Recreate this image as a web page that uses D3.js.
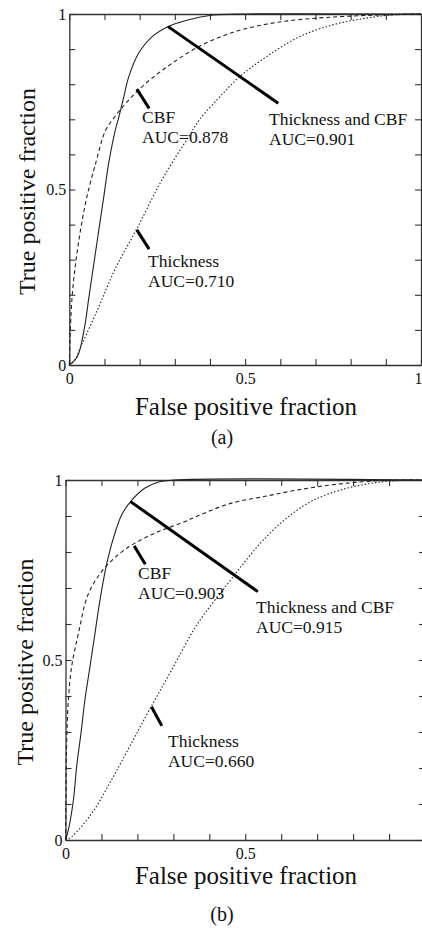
<!DOCTYPE html>
<html>
<head>
<meta charset="utf-8">
<script src="https://cdn.jsdelivr.net/npm/d3@7"></script>
<style>
body { margin: 0; background: #fff; }
svg { display: block; font-family: "Liberation Serif", "Times New Roman", serif; }
</style>
</head>
<body>
<script>
// tick positions (inward ticks every 0.1, labels at 0, 0.5, 1)
var gridTicks = [0, 0.1, 0.2, 0.3, 0.4, 0.5, 0.6, 0.7, 0.8, 0.9, 1];
var labelTicks = [0, 0.5, 1];
var tickText = ["0", "0.5", "1"];

// panel (a): [FPF, TPF] points
var aCombined = [[0,0],[0.023,0.024],[0.042,0.10],[0.056,0.195],[0.070,0.29],[0.084,0.385],[0.098,0.479],
	[0.112,0.575],[0.131,0.67],[0.141,0.707],[0.155,0.764],[0.169,0.821],[0.197,0.888],[0.235,0.935],
	[0.28,0.964],[0.32,0.978],[0.358,0.988],[0.41,0.997],[0.5,1],[1,1]];
var aCbf = [[0,0],[0.003,0.1],[0.008,0.195],[0.018,0.29],[0.032,0.385],[0.05,0.479],[0.075,0.575],
	[0.103,0.668],[0.13,0.708],[0.16,0.745],[0.19,0.777],[0.235,0.817],[0.29,0.858],[0.37,0.908],
	[0.466,0.948],[0.56,0.971],[0.654,0.984],[0.8,0.994],[1,1]];
var aThick = [[0,0],[0.013,0.01],[0.037,0.062],[0.084,0.166],[0.131,0.275],[0.193,0.39],[0.263,0.527],
	[0.339,0.65],[0.371,0.7],[0.428,0.764],[0.484,0.821],[0.56,0.878],[0.654,0.935],[0.749,0.969],
	[0.843,0.988],[0.938,0.999],[1,1]];

// panel (b)
var bCombined = [[0,0],[0.008,0.028],[0.022,0.111],[0.031,0.204],[0.043,0.296],[0.054,0.389],[0.068,0.481],
	[0.082,0.574],[0.096,0.667],[0.114,0.764],[0.133,0.838],[0.156,0.903],[0.181,0.94],[0.22,0.977],
	[0.257,0.994],[0.3,1],[1,1]];
var bCbf = [[0,0],[0.001,0.1],[0.002,0.204],[0.004,0.296],[0.008,0.389],[0.017,0.481],[0.036,0.574],
	[0.062,0.68],[0.1,0.745],[0.146,0.792],[0.192,0.824],[0.257,0.856],[0.331,0.884],[0.367,0.9],
	[0.459,0.935],[0.552,0.954],[0.644,0.972],[0.736,0.986],[0.828,0.995],[0.92,1],[1,1]];
var bThick = [[0,0],[0.017,0.009],[0.073,0.074],[0.128,0.167],[0.183,0.268],[0.238,0.37],[0.294,0.47],
	[0.367,0.6],[0.45,0.71],[0.506,0.782],[0.552,0.835],[0.616,0.895],[0.69,0.944],[0.782,0.977],
	[0.874,0.994],[0.966,1],[1,1]];

var curveNames = ["Thickness and CBF", "CBF", "Thickness"];
var aAuc = ["0.901", "0.878", "0.710"];
var bAuc = ["0.915", "0.903", "0.660"];

// leader line ends and label anchor, in data units
var aLeaders = [[[0.281,0.964],[0.594,0.746]], [[0.192,0.786],[0.227,0.731]], [[0.192,0.385],[0.227,0.330]]];
var aLabelAt = [[0.568,0.684], [0.207,0.689], [0.224,0.278]];
var bLeaders = [[[0.181,0.940],[0.535,0.690]], [[0.191,0.817],[0.222,0.766]], [[0.239,0.370],[0.268,0.317]]];
var bLabelAt = [[0.530,0.631], [0.202,0.725], [0.285,0.258]];

var svg = d3.select("body").append("svg")
	.attr("width", 422)
	.attr("height", 928);

var styles = [
	{ dash: null },
	{ dash: "4,3" },
	{ dash: "1.5,2" }
];

var draw_panel = function(p) {
	var x = d3.scaleLinear().domain([0, 1]).range([p.left, p.right]);
	var y = d3.scaleLinear().domain([0, 1]).range([p.bottom, p.top]);
	var g = svg.append("g");

	var label = function(shown) {
		return function(d) { var i = labelTicks.indexOf(d); return (i < 0 || i >= shown) ? "" : tickText[i]; };
	};

	var axes = [
		d3.axisBottom(x).tickValues(gridTicks).tickFormat(label(p.xLabels)).tickSizeInner(-6).tickSizeOuter(0).tickPadding(8),
		d3.axisLeft(y).tickValues(gridTicks).tickFormat(label(3)).tickSizeInner(-6).tickSizeOuter(0).tickPadding(3),
		d3.axisTop(x).tickValues(gridTicks).tickFormat("").tickSizeInner(-6).tickSizeOuter(0),
		d3.axisRight(y).tickValues(gridTicks).tickFormat("").tickSizeInner(-6).tickSizeOuter(0)
	];
	var shift = ["translate(0," + p.bottom + ")", "translate(" + p.left + ",0)",
		"translate(0," + p.top + ")", "translate(" + p.right + ",0)"];

	axes.forEach(function(ax, i) {
		var a = g.append("g").attr("transform", shift[i]).call(ax);
		a.attr("font-family", null).attr("font-size", null);
		a.selectAll("path.domain").attr("stroke", "#333").attr("stroke-width", 1.3);
		a.selectAll(".tick line").attr("stroke", "#333").attr("stroke-width", 1.1);
		a.selectAll(".tick text").attr("fill", "#111").style("font-size", "16px");
		// last x label sits on the page edge: keep it inside
		if (i === 0) a.selectAll(".tick text").filter(function(d) { return d === 1; }).attr("text-anchor", "end").attr("x", 1);
	});

	var line = d3.line()
		.x(function(d) { return x(d[0]); })
		.y(function(d) { return y(d[1]); })
		.curve(d3.curveCatmullRom.alpha(0.5));

	g.selectAll("path.roc")
		.data(p.series)
		.enter().append("path")
		.attr("class", "roc")
		.attr("d", line)
		.attr("fill", "none")
		.attr("stroke", "#222")
		.attr("stroke-width", 1.1)
		.attr("stroke-dasharray", function(d, i) { return styles[i].dash; });

	g.selectAll("line.leader")
		.data(p.leaders)
		.enter().append("line")
		.attr("class", "leader")
		.attr("x1", function(d) { return x(d[0][0]); })
		.attr("y1", function(d) { return y(d[0][1]); })
		.attr("x2", function(d) { return x(d[1][0]); })
		.attr("y2", function(d) { return y(d[1][1]); })
		.attr("stroke", "#000")
		.attr("stroke-width", 3);

	var note = g.selectAll("text.note")
		.data(p.labelAt)
		.enter().append("text")
		.attr("class", "note")
		.attr("x", function(d) { return x(d[0]); })
		.attr("y", function(d) { return y(d[1]); })
		.attr("fill", "#111")
		.style("font-size", "17.5px");
	note.append("tspan").text(function(d, i) { return curveNames[i]; });
	note.append("tspan")
		.attr("x", function(d) { return x(d[0]); })
		.attr("dy", 20)
		.text(function(d, i) { return "AUC=" + p.auc[i]; });

	g.append("text")
		.attr("transform", "translate(" + p.ylabelX + "," + ((p.top + p.bottom) / 2 + 2) + ") rotate(-90)")
		.attr("text-anchor", "middle")
		.attr("fill", "#111")
		.style("font-size", "24px")
		.text("True positive fraction");

	g.append("text")
		.attr("x", 246)
		.attr("y", p.xlabelY)
		.attr("text-anchor", "middle")
		.attr("fill", "#111")
		.style("font-size", "25px")
		.text("False positive fraction");

	g.append("text")
		.attr("x", 222)
		.attr("y", p.captionY)
		.attr("text-anchor", "middle")
		.attr("fill", "#111")
		.style("font-size", "20px")
		.text(p.caption);
};

draw_panel({ left: 69.3, right: 421, top: 14, bottom: 365, series: [aCombined, aCbf, aThick], xLabels: 3,
	leaders: aLeaders, labelAt: aLabelAt, auc: aAuc, ylabelX: 35, xlabelY: 415, captionY: 444, caption: "(a)" });
draw_panel({ left: 65.5, right: 425, top: 480, bottom: 840, series: [bCombined, bCbf, bThick], xLabels: 2,
	leaders: bLeaders, labelAt: bLabelAt, auc: bAuc, ylabelX: 33, xlabelY: 884, captionY: 921, caption: "(b)" });
</script>
</body>
</html>
